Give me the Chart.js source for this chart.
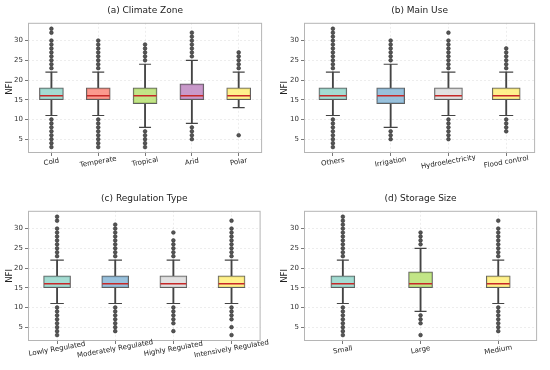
<!DOCTYPE html>
<html>
<head>
<meta charset="utf-8">
<script src="https://cdn.jsdelivr.net/npm/chart.js@4"></script>
<style>
    html, body { margin: 0; padding: 0; background: #fff; }
    #wrap { position: relative; width: 550px; height: 370px; }
    #wrap canvas { position: absolute; }
</style>
</head>
<body>
<div id="wrap">
    <canvas id="chart-a" width="275" height="185" style="left:0;top:0"></canvas>
    <canvas id="chart-b" width="275" height="185" style="left:275px;top:0"></canvas>
    <canvas id="chart-c" width="275" height="185" style="left:0;top:185px"></canvas>
    <canvas id="chart-d" width="275" height="185" style="left:275px;top:185px"></canvas>
</div>
<script>
/* ---------- data ---------- */

const yTicks = [5, 10, 15, 20, 25, 30];

// (a) climate zone
const climateLabels = ["Cold", "Temperate", "Tropical", "Arid", "Polar"];
const climateLow = [11, 11, 8, 9, 13];
const climateQ1 = [15, 15, 14, 15, 15];
const climateMedian = [16, 16, 16, 16, 16];
const climateQ3 = [18, 18, 18, 19, 18];
const climateHigh = [22, 22, 24, 25, 22];
const climateOutliers = [
    [3, 4, 5, 6, 7, 8, 9, 10, 23, 24, 25, 26, 27, 28, 29, 30, 32, 33],
    [3, 4, 5, 6, 7, 8, 9, 10, 23, 24, 25, 26, 27, 28, 29, 30],
    [3, 4, 5, 6, 7, 25, 26, 27, 28, 29],
    [5, 6, 7, 8, 26, 27, 28, 29, 30, 31, 32],
    [6, 23, 24, 25, 26, 27]
];

// (b) main use
const useLabels = ["Others", "Irrigation", "Hydroelectricity", "Flood control"];
const useLow = [11, 8, 11, 11];
const useQ1 = [15, 14, 15, 15];
const useMedian = [16, 16, 16, 16];
const useQ3 = [18, 18, 18, 18];
const useHigh = [22, 24, 22, 22];
const useOutliers = [
    [3, 4, 5, 6, 7, 8, 9, 10, 23, 24, 25, 26, 27, 28, 29, 30, 31, 32, 33],
    [5, 6, 7, 25, 26, 27, 28, 29, 30],
    [5, 6, 7, 8, 9, 10, 23, 24, 25, 26, 27, 28, 29, 30, 32],
    [7, 8, 9, 10, 23, 24, 25, 26, 27, 28]
];

// (c) regulation type
const regLabels = ["Lowly Regulated", "Moderately Regulated", "Highly Regulated", "Intensively Regulated"];
const regLow = [11, 11, 11, 11];
const regQ1 = [15, 15, 15, 15];
const regMedian = [16, 16, 16, 16];
const regQ3 = [18, 18, 18, 18];
const regHigh = [22, 22, 22, 22];
const regOutliers = [
    [3, 4, 5, 6, 7, 8, 9, 10, 23, 24, 25, 26, 27, 28, 29, 30, 32, 33],
    [4, 5, 6, 7, 8, 9, 10, 23, 24, 25, 26, 27, 28, 29, 30, 31],
    [4, 6, 7, 8, 9, 10, 23, 24, 25, 26, 27, 29],
    [3, 5, 7, 8, 9, 10, 23, 24, 25, 26, 27, 28, 29, 30, 32]
];

// (d) storage size
const sizeLabels = ["Small", "Large", "Medium"];
const sizeLow = [11, 9, 11];
const sizeQ1 = [15, 15, 15];
const sizeMedian = [16, 16, 16];
const sizeQ3 = [18, 19, 18];
const sizeHigh = [22, 25, 22];
const sizeOutliers = [
    [3, 4, 5, 6, 7, 8, 9, 10, 23, 24, 25, 26, 27, 28, 29, 30, 31, 32, 33],
    [3, 6, 7, 8, 26, 27, 28, 29],
    [4, 5, 6, 7, 8, 9, 10, 23, 24, 25, 26, 27, 28, 29, 30, 32]
];

/* ---------- style ---------- */

const TEAL = "rgba(141,211,199,0.8)";
const SALMON = "rgba(251,128,114,0.8)";
const GREEN = "rgba(179,222,105,0.8)";
const PURPLE = "rgba(188,128,189,0.8)";
const YELLOW = "rgba(255,237,111,0.8)";
const BLUE = "rgba(128,177,211,0.8)";
const GREY = "rgba(217,217,217,0.8)";

const EDGE = "#444";
const FONT = "'DejaVu Sans', sans-serif";

Chart.defaults.font.family = FONT;
Chart.defaults.color = "#333";

// frame round the plot area + slanted, centred category labels
const framePlugin = {
    id: "frame",
    afterDraw(chart, args, opts) {
        const { ctx, chartArea } = chart;
        const x = chart.scales.x;
        ctx.save();
        ctx.strokeStyle = "#b5b5b5";
        ctx.lineWidth = 1;
        ctx.strokeRect(chartArea.left + 0.5, chartArea.top + 0.5,
            chartArea.right - chartArea.left - 1, chartArea.bottom - chartArea.top - 1);
        ctx.font = "7px " + FONT;
        ctx.fillStyle = "#222";
        ctx.textAlign = "center";
        ctx.textBaseline = "middle";
        chart.data.labels.forEach((label, i) => {
            ctx.save();
            ctx.translate(x.getPixelForValue(i), chartArea.bottom + opts.gap);
            ctx.rotate(-10 * Math.PI / 180);
            ctx.fillText(label, 0, 0);
            ctx.restore();
        });
        ctx.restore();
    }
};

function boxPanel(id, p) {
    const at = (arr) => arr.map((v, i) => ({ x: p.labels[i], y: v }));
    const fliers = [];
    p.outliers.forEach((list, i) => {
        list.forEach((v) => fliers.push({ x: p.labels[i], y: v }));
    });

    const whisker = {
        barThickness: 1.2,
        backgroundColor: EDGE,
        grouped: false,
        order: 4
    };

    new Chart(document.getElementById(id), {
        type: "bar",
        data: {
            labels: p.labels,
            datasets: [
                Object.assign({ data: p.low.map((v, i) => [v, p.q1[i]]) }, whisker),
                Object.assign({ data: p.high.map((v, i) => [p.q3[i], v]) }, whisker),
                {
                    data: p.q1.map((v, i) => [v, p.q3[i]]),
                    barThickness: p.boxWidth,
                    backgroundColor: p.colors,
                    borderColor: "#5f5f5f",
                    borderWidth: 1,
                    borderSkipped: false,
                    grouped: false,
                    order: 3
                },
                {
                    type: "line",
                    data: at(p.low).concat(at(p.high)),
                    showLine: false,
                    pointStyle: "line",
                    pointRadius: p.boxWidth / 4,
                    pointBorderColor: EDGE,
                    pointBorderWidth: 1.2,
                    order: 2
                },
                {
                    type: "line",
                    data: at(p.median),
                    showLine: false,
                    pointStyle: "line",
                    pointRadius: p.boxWidth / 2 - 0.5,
                    pointBorderColor: "#c62828",
                    pointBorderWidth: 1.4,
                    order: 1
                },
                {
                    type: "line",
                    data: fliers,
                    showLine: false,
                    pointStyle: "circle",
                    pointRadius: 1.85,
                    pointBackgroundColor: "#555",
                    pointBorderColor: "#333",
                    pointBorderWidth: 0.6,
                    order: 0
                }
            ]
        },
        options: {
            responsive: false,
            animation: false,
            events: [],
            layout: {
                padding: { top: p.padTop, right: 7, bottom: 0, left: 0 }
            },
            plugins: {
                legend: { display: false },
                tooltip: { enabled: false },
                title: {
                    display: true,
                    text: p.title,
                    fullSize: false,
                    color: "#222",
                    font: { size: 9, weight: "normal" },
                    padding: { top: 0, bottom: 7 }
                },
                frame: { gap: p.labelGap }
            },
            scales: {
                x: {
                    offset: true,
                    grid: {
                        offset: false,
                        color: "rgba(0,0,0,0.07)",
                        tickColor: "#555",
                        tickLength: 3,
                        tickWidth: 0.8
                    },
                    border: { display: false, dash: [2, 2] },
                    ticks: { display: false },
                    afterFit: (s) => { s.height = p.xAxisHeight; }
                },
                y: {
                    min: 1.5,
                    max: 34.5,
                    afterBuildTicks: (s) => {
                        s.ticks = yTicks.map((v) => ({ value: v }));
                    },
                    grid: {
                        color: "rgba(0,0,0,0.07)",
                        tickColor: "#555",
                        tickLength: 3,
                        tickWidth: 0.8
                    },
                    border: { display: false, dash: [2, 2] },
                    ticks: { font: { size: 7 }, color: "#333", padding: 2 },
                    title: {
                        display: true,
                        text: "NFI",
                        color: "#222",
                        font: { size: 8.5 },
                        padding: { top: 5, bottom: 0 }
                    },
                    afterFit: (s) => { s.width = p.yAxisWidth; }
                }
            }
        },
        plugins: [framePlugin]
    });
}

boxPanel("chart-a", {
    title: "(a) Climate Zone",
    labels: climateLabels, low: climateLow, q1: climateQ1, median: climateMedian,
    q3: climateQ3, high: climateHigh, outliers: climateOutliers,
    colors: [TEAL, SALMON, GREEN, PURPLE, YELLOW],
    boxWidth: 24, yAxisWidth: 28, xAxisHeight: 32, padTop: 5, labelGap: 9
});

boxPanel("chart-b", {
    title: "(b) Main Use",
    labels: useLabels, low: useLow, q1: useQ1, median: useMedian,
    q3: useQ3, high: useHigh, outliers: useOutliers,
    colors: [TEAL, BLUE, GREY, YELLOW],
    boxWidth: 28, yAxisWidth: 29, xAxisHeight: 32, padTop: 5, labelGap: 9
});

boxPanel("chart-c", {
    title: "(c) Regulation Type",
    labels: regLabels, low: regLow, q1: regQ1, median: regMedian,
    q3: regQ3, high: regHigh, outliers: regOutliers,
    colors: [TEAL, BLUE, GREY, YELLOW],
    boxWidth: 27, yAxisWidth: 28, xAxisHeight: 29, padTop: 8, labelGap: 8
});

boxPanel("chart-d", {
    title: "(d) Storage Size",
    labels: sizeLabels, low: sizeLow, q1: sizeQ1, median: sizeMedian,
    q3: sizeQ3, high: sizeHigh, outliers: sizeOutliers,
    colors: [TEAL, GREEN, YELLOW],
    boxWidth: 24, yAxisWidth: 29, xAxisHeight: 29, padTop: 8, labelGap: 9
});
</script>
</body>
</html>
